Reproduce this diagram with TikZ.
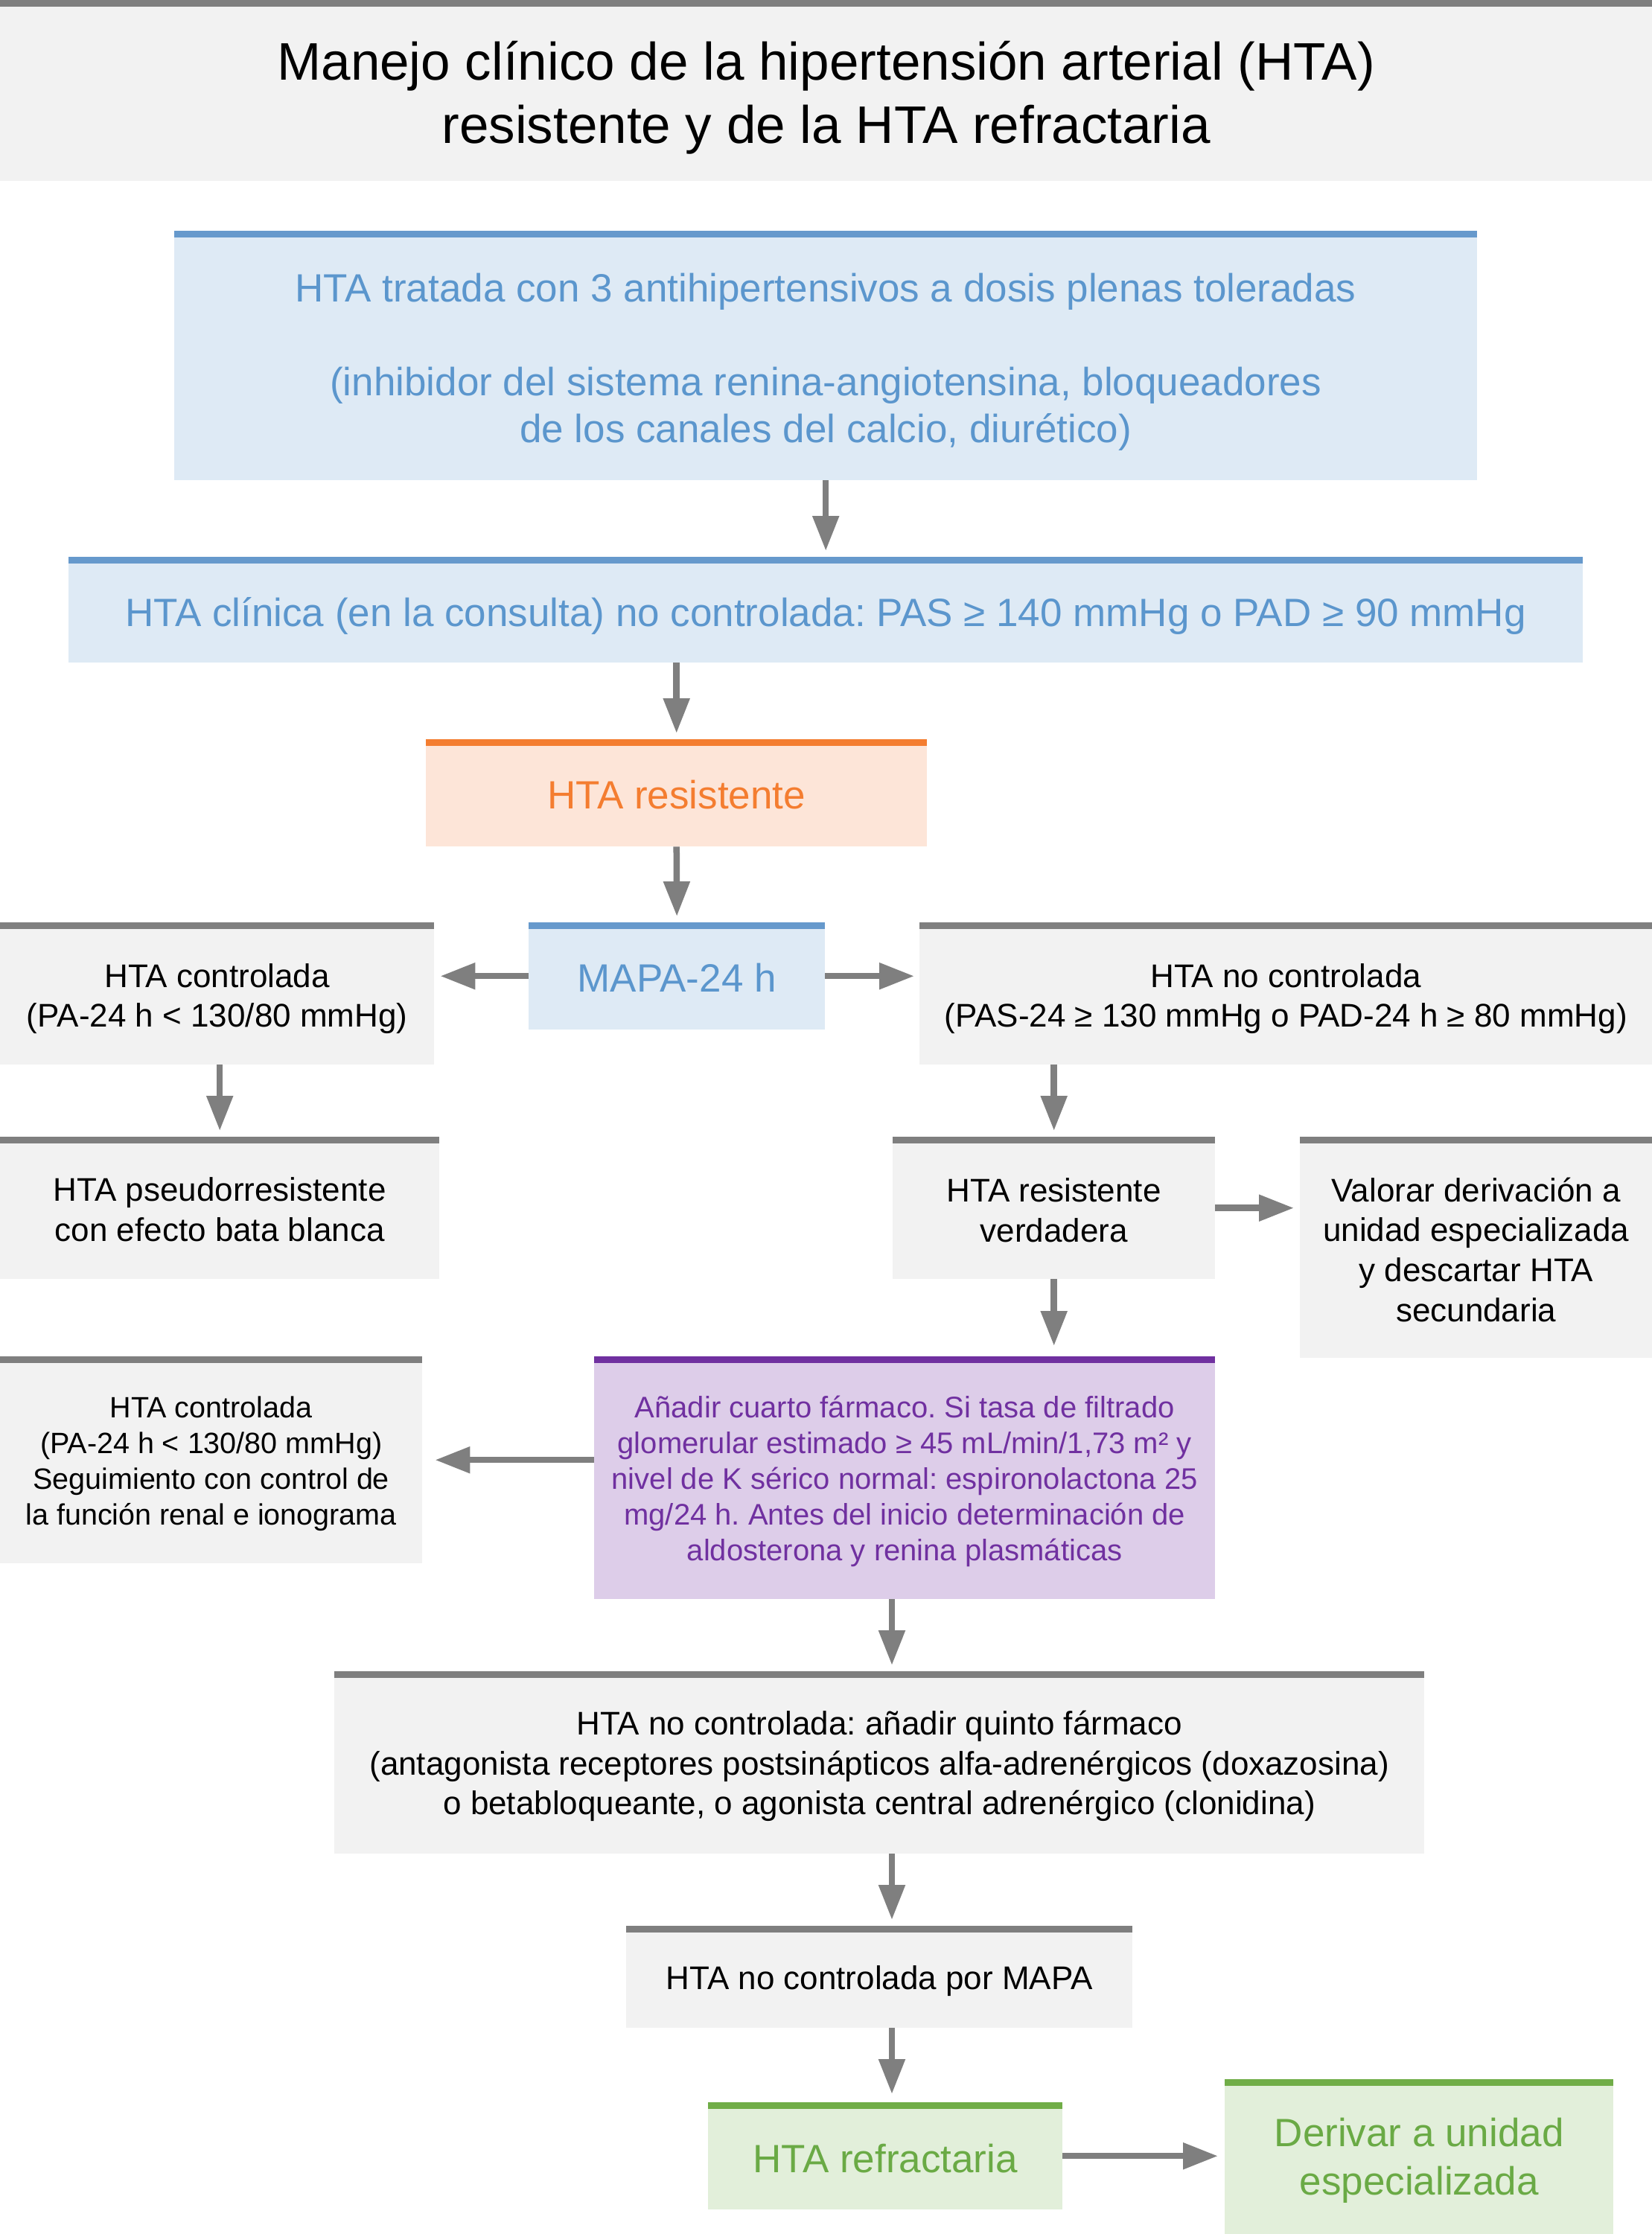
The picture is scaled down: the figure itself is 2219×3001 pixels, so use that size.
\documentclass[tikz,border=0pt]{standalone}
\usepackage{fontspec}
\setmainfont{Liberation Sans}
\frenchspacing
\usetikzlibrary{arrows.meta}
\definecolor{grayline}{HTML}{7F7F7F}
\definecolor{grayfill}{HTML}{F2F2F2}
\definecolor{blueline}{HTML}{6699CC}
\definecolor{bluetext}{HTML}{5B96CD}
\definecolor{bluefill}{HTML}{DEEAF5}
\definecolor{orangeline}{HTML}{F47D30}
\definecolor{orangetext}{HTML}{F47D30}
\definecolor{orangefill}{HTML}{FDE5D8}
\definecolor{purpleline}{HTML}{7030A0}
\definecolor{purpletext}{HTML}{7030A0}
\definecolor{purplefill}{HTML}{DDCDE9}
\definecolor{greenline}{HTML}{70AD47}
\definecolor{greentext}{HTML}{6AAA45}
\definecolor{greenfill}{HTML}{E2EFDA}
\definecolor{arrowgray}{HTML}{7F7F7F}
\tikzset{
  box/.style={rectangle, inner sep=0pt, anchor=north west},
  txt/.style={inner sep=0pt, align=center, anchor=center},
  grayfillbox/.style={box, fill=grayfill},
  bluefillbox/.style={box, fill=bluefill},
  orangefillbox/.style={box, fill=orangefill},
  purplefillbox/.style={box, fill=purplefill},
  greenfillbox/.style={box, fill=greenfill},
  graytext/.style={txt, text=black, font=\fontsize{44}{53.6}\selectfont},
  smallgraytext/.style={txt, text=black, font=\fontsize{39.5}{48}\selectfont},
  bluetxt/.style={txt, text=bluetext, font=\fontsize{53}{63}\selectfont},
  orangetxt/.style={txt, text=orangetext, font=\fontsize{53}{63}\selectfont},
  purpletxt/.style={txt, text=purpletext, font=\fontsize{40}{48}\selectfont},
  greentxt/.style={txt, text=greentext, font=\fontsize{53}{65}\selectfont},
  titletxt/.style={txt, text=black, font=\fontsize{71}{85}\selectfont},
  topline/.style={line width=9pt},
  arr/.style={draw=arrowgray, line width=8.5pt, -{Triangle[length=47pt,width=34pt]}, shorten >=8pt},
}
\begin{document}
\begin{tikzpicture}[x=1pt,y=-1pt]
\fill[white] (0,0) rectangle (2219,3001);
\useasboundingbox (0,0) rectangle (2219,3001);

% boxes
\node[grayfillbox, minimum width=2219pt, minimum height=243pt] (title) at (0,0) {};
\node[bluefillbox, minimum width=1750pt, minimum height=335pt] (b1) at (234,310) {};
\node[bluefillbox, minimum width=2034pt, minimum height=142pt] (b2) at (92,748) {};
\node[orangefillbox, minimum width=673pt, minimum height=144pt] (res) at (572,993) {};
\node[bluefillbox, minimum width=398pt, minimum height=144pt] (mapa) at (710,1239) {};
\node[grayfillbox, minimum width=583pt, minimum height=191pt] (ctrl) at (0,1239) {};
\node[grayfillbox, minimum width=984pt, minimum height=191pt] (noctrl) at (1235,1239) {};
\node[grayfillbox, minimum width=590pt, minimum height=191pt] (pseudo) at (0,1527) {};
\node[grayfillbox, minimum width=433pt, minimum height=191pt] (verd) at (1199,1527) {};
\node[grayfillbox, minimum width=473pt, minimum height=297pt] (valorar) at (1746,1527) {};
\node[purplefillbox, minimum width=834pt, minimum height=326pt] (cuarto) at (798,1822) {};
\node[grayfillbox, minimum width=567pt, minimum height=278pt] (ctrl2) at (0,1822) {};
\node[grayfillbox, minimum width=1464pt, minimum height=245pt] (quinto) at (449,2245) {};
\node[grayfillbox, minimum width=680pt, minimum height=137pt] (mapa2) at (841,2587) {};
\node[greenfillbox, minimum width=476pt, minimum height=144pt] (refr) at (951,2824) {};
\node[greenfillbox, minimum width=522pt, minimum height=208pt] (deriv) at (1645,2793) {};

% top coloured lines
\foreach \n/\c in {title/grayline, b1/blueline, b2/blueline, res/orangeline, mapa/blueline,
  ctrl/grayline, noctrl/grayline, pseudo/grayline, verd/grayline, valorar/grayline,
  cuarto/purpleline, ctrl2/grayline, quinto/grayline, mapa2/grayline, refr/greenline, deriv/greenline}
  \draw[topline, \c] ([yshift=-4.5pt]\n.north west) -- ([yshift=-4.5pt]\n.north east);

% texts
\node[titletxt] (title-t) at ([yshift=-10pt]title.center)
  {Manejo clínico de la hipertensión arterial (HTA)\\resistente y de la HTA refractaria};
\node[bluetxt] (b1-t) at ([yshift=-9pt]b1.center)
  {HTA tratada con 3 antihipertensivos a dosis plenas toleradas\\[63pt]
   (inhibidor del sistema renina-angiotensina, bloqueadores\\
   de los canales del calcio, diurético)};
\node[bluetxt] (b2-t) at ([yshift=-8pt]b2.center)
  {HTA clínica (en la consulta) no controlada: PAS ≥ 140 mmHg o PAD ≥ 90 mmHg};
\node[orangetxt] (res-t) at ([yshift=-2pt]res.center) {HTA resistente};
\node[bluetxt] (mapa-t) at ([yshift=-2pt]mapa.center) {MAPA-24 h};
\node[graytext] (ctrl-t) at ([yshift=-7pt]ctrl.center)
  {HTA controlada\\(PA-24 h < 130/80 mmHg)};
\node[graytext] (noctrl-t) at ([yshift=-7pt]noctrl.center)
  {HTA no controlada\\(PAS-24 ≥ 130 mmHg o PAD-24 h ≥ 80 mmHg)};
\node[graytext] (pseudo-t) at ([yshift=-2pt]pseudo.center)
  {HTA pseudorresistente\\con efecto bata blanca};
\node[graytext] (verd-t) at ([yshift=-3pt]verd.center)
  {HTA resistente\\verdadera};
\node[graytext] (valorar-t) at ([yshift=-3pt]valorar.center)
  {Valorar derivación a\\unidad especializada\\y descartar HTA\\secundaria};
\node[purpletxt] (cuarto-t) at ([yshift=-5pt]cuarto.center)
  {Añadir cuarto fármaco. Si tasa de filtrado\\
   glomerular estimado ≥ 45 mL/min/1,73 m² y\\
   nivel de K sérico normal: espironolactona 25\\
   mg/24 h. Antes del inicio determinación de\\
   aldosterona y renina plasmáticas};
\node[smallgraytext] (ctrl2-t) at ([yshift=-5pt]ctrl2.center)
  {HTA controlada\\(PA-24 h < 130/80 mmHg)\\Seguimiento con control de\\la función renal e ionograma};
\node[graytext] (quinto-t) at ([yshift=-5pt]quinto.center)
  {HTA no controlada: añadir quinto fármaco\\
   (antagonista receptores postsinápticos alfa-adrenérgicos (doxazosina)\\
   o betabloqueante, o agonista central adrenérgico (clonidina)};
\node[graytext] (mapa2-t) at ([yshift=-5pt]mapa2.center) {HTA no controlada por MAPA};
\node[greentxt] (refr-t) at ([yshift=-3pt]refr.center) {HTA refractaria};
\node[greentxt] (deriv-t) at ([yshift=-5pt]deriv.center) {Derivar a unidad\\especializada};

\coordinate (col) at (1198,0);

% connectors
\draw[arr] (b1.south) -- (b2.north -| b1.south);
\draw[arr] (b2.south -| res.north) -- (res.north);
\draw[arr] (res.south) -- (mapa.north);
\draw[arr] (mapa.west) -- (ctrl.east |- mapa.west);
\draw[arr, shorten >=7pt] (mapa.east) -- (noctrl.west |- mapa.east);
\draw[arr] (ctrl.south -| pseudo.north) -- (pseudo.north);
\draw[arr] (noctrl.south -| verd.north) -- (verd.north);
\draw[arr] (verd.east) -- (valorar.west |- verd.east);
\draw[arr, shorten >=14pt] (verd.south) -- (cuarto.north -| verd.south);
\draw[arr, shorten >=17pt] (cuarto.west |- ctrl2.east) -- (ctrl2.east);
\draw[arr] (cuarto.south -| col) -- (quinto.north -| col);
\draw[arr] (quinto.south -| col) -- (mapa2.north -| col);
\draw[arr, shorten >=11pt] (mapa2.south -| col) -- (refr.north -| col);
\draw[arr, shorten >=9pt] (refr.east) -- (deriv.west |- refr.east);
\end{tikzpicture}
\end{document}
